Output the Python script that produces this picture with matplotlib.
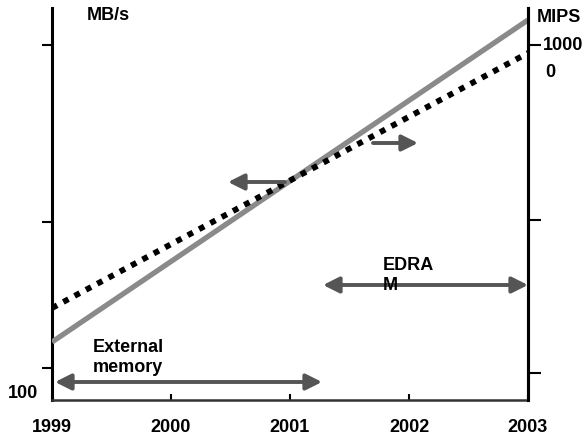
import matplotlib
matplotlib.use("Agg")
import matplotlib.pyplot as plt

plt.rcParams['font.family'] = ['Liberation Sans', 'DejaVu Sans']
plt.rcParams['font.weight'] = 'bold'

# Data (relative chart units)
years = [1999, 2003]
mbps = [58, 380]        # gray solid line (MB/s, left axis)
mips = [92, 347]        # dotted line (MIPS, right axis)
xticks = [1999, 2000, 2001, 2002, 2003]
left_ticks = [32, 178, 355]
right_ticks = [27, 180, 355]

fig = plt.figure(figsize=(5.84, 4.37), dpi=100)
ax = fig.add_axes([52/584, 37/437, 476/584, 392/437])
ax.set_xlim(1999, 2003)
ax.set_ylim(0, 392)

ax.plot(years, mbps, color='#8a8a8a', lw=3.8, solid_capstyle='butt', zorder=3)
ax.plot(years, mips, color='black', lw=4.2, linestyle=(0, (1, 1.2)),
        dash_capstyle='butt', zorder=3)

ax.spines['top'].set_visible(False)
ax.spines['left'].set_linewidth(2.2)
ax.spines['right'].set_linewidth(2.2)
ax.spines['bottom'].set_linewidth(1.8)
ax.spines['bottom'].set_color('#333333')

fs = 13
ax.set_xticks(xticks)
ax.set_xticklabels([str(x) for x in xticks], fontsize=fs, fontweight='bold')
ax.tick_params(axis='x', direction='in', length=4, width=1.5, pad=14)
ax.set_yticks(left_ticks)
ax.set_yticklabels([])
ax.tick_params(axis='y', direction='out', length=7, width=1.5)

ax2 = ax.twinx()
ax2.set_ylim(0, 392)
ax2.set_yticks(right_ticks)
ax2.set_yticklabels([])
ax2.tick_params(axis='y', direction='out', length=9, width=1.5)
for s in ['top', 'left', 'bottom']:
    ax2.spines[s].set_visible(False)
ax2.spines['right'].set_linewidth(2.2)

def px2yr(px):
    return 1999 + (px - 52) / 119.0

arrow_color = '#555555'
def arrow(x0, x1, y, style):
    ax.annotate('', xy=(px2yr(x1), y), xytext=(px2yr(x0), y),
                arrowprops=dict(arrowstyle=style, color=arrow_color, lw=2.8,
                                mutation_scale=24, shrinkA=0, shrinkB=0),
                annotation_clip=False, zorder=4)

# Arrows (start px, end px, height)
arrow(55, 322, 18, '<|-|>')
arrow(323, 528, 115, '<|-|>')
arrow(285, 228, 218, '-|>')
arrow(373, 418, 257, '-|>')

ax.text(px2yr(108), 385, 'MB/s', ha='center', va='center', fontsize=fs, fontweight='bold', clip_on=False)
ax.text(px2yr(537), 383, 'MIPS', ha='left', va='center', fontsize=fs, fontweight='bold', clip_on=False)
ax.text(px2yr(543), 355, '1000', ha='left', va='center', fontsize=fs, fontweight='bold', clip_on=False)
ax.text(px2yr(545), 328, '0', ha='left', va='center', fontsize=fs, fontweight='bold', clip_on=False)
ax.text(px2yr(93), 52, 'External', ha='left', va='center', fontsize=fs, fontweight='bold')
ax.text(px2yr(93), 32, 'memory', ha='left', va='center', fontsize=fs, fontweight='bold')
ax.text(px2yr(383), 135, 'EDRA', ha='left', va='center', fontsize=fs, fontweight='bold')
ax.text(px2yr(383), 115, 'M', ha='left', va='center', fontsize=fs, fontweight='bold', zorder=5)
ax.text(px2yr(38), 7, '100', ha='right', va='center', fontsize=fs, fontweight='bold', clip_on=False)

fig.savefig('out.png', dpi=100)
